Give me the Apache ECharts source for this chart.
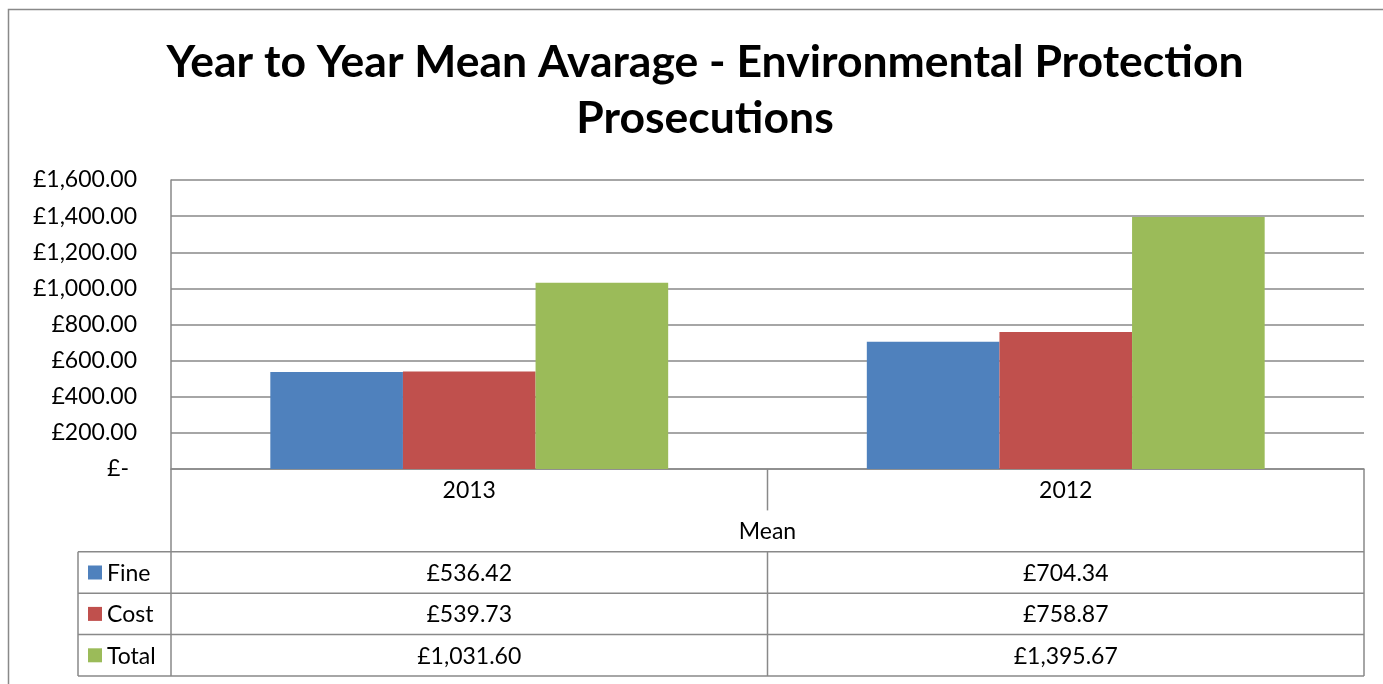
<!DOCTYPE html>
<html>
<head>
<meta charset="utf-8">
<script src="https://cdn.jsdelivr.net/npm/echarts@6/dist/echarts.min.js"></script>
<style>
  html, body { margin: 0; padding: 0; background: #fff; }
  #chart { width: 1383px; height: 684px; }
</style>
</head>
<body>
<div id="chart"></div>
<script>
var years = ['2013', '2012']
var fine = [536.42, 704.34]
var cost = [539.73, 758.87]
var total = [1031.60, 1395.67]
var seriesNames = ['Fine', 'Cost', 'Total']
var seriesColors = ['#4F81BD', '#C0504D', '#9BBB59']
var yMin = 0
var yMax = 1600
var yStep = 200
var groupLabel = 'Mean'

var font = 'Lato, "Noto Sans", sans-serif'
var lineColor = '#898989'
var smallSize = 23

function money(v) {
  if (v === 0) return '£-'
  var parts = v.toFixed(2).split('.')
  parts[0] = parts[0].replace(/\B(?=(\d{3})+(?!\d))/g, ',')
  return '£' + parts.join('.')
}

var chart = echarts.init(document.getElementById('chart'))

var grid = { left: 171, right: 19, top: 180, bottom: 215 }
var seriesData = [fine, cost, total]

chart.setOption({
  animation: false,
  title: {
    text: 'Year to Year Mean Avarage - Environmental Protection\nProsecutions',
    left: 700,
    top: 30,
    textAlign: 'center',
    textStyle: {
      fontFamily: font,
      fontSize: 44.5,
      fontWeight: 'bold',
      lineHeight: 56,
      color: '#000'
    }
  },
  grid: grid,
  xAxis: {
    type: 'category',
    data: years,
    axisLine: { lineStyle: { color: lineColor, width: 1.5 } },
    axisTick: { show: false },
    axisLabel: { fontFamily: font, fontSize: smallSize, color: '#000', margin: 10 }
  },
  yAxis: {
    type: 'value',
    min: yMin,
    max: yMax,
    interval: yStep,
    axisLine: { show: true, lineStyle: { color: lineColor, width: 1.5 } },
    axisTick: { show: false },
    splitLine: { lineStyle: { color: lineColor, width: 1.5 } },
    axisLabel: {
      fontFamily: font,
      fontSize: smallSize,
      color: '#000',
      margin: 34,
      formatter: function (v) { return v === 0 ? '{z|£-}' : money(v) },
      rich: { z: { fontFamily: font, fontSize: smallSize, color: '#000', padding: [0, 8, 0, 0] } }
    }
  },
  series: seriesNames.map(function (name, i) {
    return {
      name: name,
      type: 'bar',
      data: seriesData[i],
      barGap: '0%',
      barCategoryGap: '33.3%',
      itemStyle: { color: seriesColors[i] }
    }
  })
})

// data table under the plot, laid out from the grid and axis positions
function buildTable() {
  var w = chart.getWidth()
  var h = chart.getHeight()
  var plotLeft = grid.left
  var plotRight = w - grid.right
  var plotBottom = h - grid.bottom
  var rowH = 41.4
  var legendLeft = plotLeft - 93
  var colCenters = years.map(function (y) { return chart.convertToPixel({ xAxisIndex: 0 }, y) })
  var mid = (colCenters[0] + colCenters[1]) / 2
  var rows = []
  for (var i = 0; i <= 5; i++) rows.push(plotBottom + i * rowH)
  var lineStyle = { stroke: lineColor, lineWidth: 1.5 }
  var els = []

  function line(x1, y1, x2, y2) {
    els.push({ type: 'line', shape: { x1: x1, y1: y1, x2: x2, y2: y2 }, style: lineStyle, silent: true })
  }
  function text(str, x, y, align) {
    els.push({
      type: 'text', x: x, y: y, silent: true,
      style: { text: str, fontFamily: font, fontSize: smallSize, fill: '#000', align: align || 'center', verticalAlign: 'middle' }
    })
  }

  // outer chart border
  els.push({ type: 'rect', shape: { x: 8.5, y: 9.5, width: w + 20, height: h + 20 }, style: { fill: null, stroke: lineColor, lineWidth: 1.5 }, silent: true })

  // verticals
  line(plotLeft, plotBottom, plotLeft, rows[5])
  line(plotRight, plotBottom, plotRight, rows[5])
  line(mid, rows[0], mid, rows[1])
  line(mid, rows[2], mid, rows[5])
  line(legendLeft, rows[2], legendLeft, rows[5])
  // horizontals
  for (var r = 2; r <= 5; r++) line(legendLeft, rows[r], plotRight, rows[r])

  text(groupLabel, mid, (rows[1] + rows[2]) / 2)

  seriesNames.forEach(function (name, s) {
    var cy = (rows[s + 2] + rows[s + 3]) / 2
    els.push({ type: 'rect', shape: { x: legendLeft + 10, y: cy - 7, width: 14, height: 14 }, style: { fill: seriesColors[s] }, silent: true })
    text(name, legendLeft + 29, cy + 1, 'left')
    colCenters.forEach(function (cx, c) {
      text(money(seriesData[s][c]), cx, cy + 1)
    })
  })
  return els
}

chart.setOption({ graphic: buildTable() })
</script>
</body>
</html>
